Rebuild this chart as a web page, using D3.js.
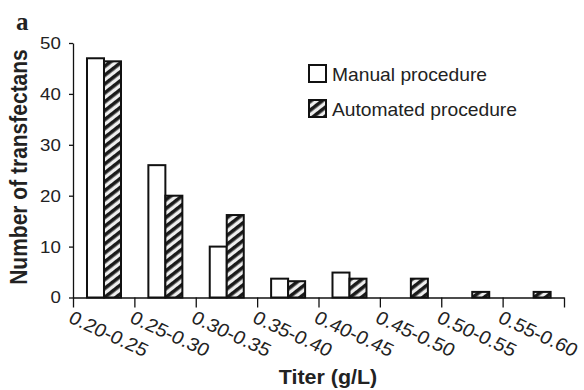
<!DOCTYPE html>
<head>
  <meta charset="utf-8">
  <script src="https://cdnjs.cloudflare.com/ajax/libs/d3/7.8.5/d3.min.js"></script>
</head>

<style>
  body { margin: 0; background: #fff; }
  text { font-family: "Liberation Sans", Arial, sans-serif; fill: #222; }
  .axis path, .axis line { stroke: #111; stroke-width: 1.3; }
  .bar { stroke: #111; stroke-width: 2; }
</style>

<body>
  <svg width="584" height="390" viewBox="0 0 584 390" class="chart"></svg>

  <script>
  // data
  let categories = ["0.20-0.25", "0.25-0.30", "0.30-0.35", "0.35-0.40",
                    "0.40-0.45", "0.45-0.50", "0.50-0.55", "0.55-0.60"];
  let manual    = [47, 26, 10, 3.7, 4.9, 0, 0, 0];
  let automated = [46.4, 20, 16.2, 3.2, 3.7, 3.7, 1.1, 1.1];
  let seriesNames = ["Manual procedure", "Automated procedure"];
  let yTicks = [0, 10, 20, 30, 40, 50];

  let svg = d3.select(".chart");
  let sx = 1.1; // picture is a bit stretched sideways

  let x0 = 73, x1 = 564, yBase = 297.5, yTop = 43;

  let x = d3.scaleBand().domain(categories).range([x0, x1]).padding(0);
  let xs = d3.scaleBand().domain(seriesNames)
      .range([x.bandwidth() * 0.228, x.bandwidth() * 0.782]);
  let xEdge = d3.scaleLinear().domain([0, categories.length]).range([x0, x1]);
  let y = d3.scaleLinear().domain([0, 50]).range([yBase, yTop]);

  // hatch pattern
  let defs = svg.append("defs");
  let pat = defs.append("pattern")
      .attr("id", "hatch")
      .attr("patternUnits", "userSpaceOnUse")
      .attr("width", 7).attr("height", 7)
      .attr("patternTransform", "rotate(-38)");
  pat.append("rect").attr("width", 7).attr("height", 7).attr("fill", "#eeeeee");
  pat.append("rect").attr("y", 0).attr("width", 7).attr("height", 3.6).attr("fill", "#1a1a1a");

  // bars
  let rows = categories.map((c, i) => ({cat: c, vals: [manual[i], automated[i]]}));
  let groups = svg.append("g").selectAll("g")
    .data(rows)
    .enter().append("g")
      .attr("transform", d => "translate(" + x(d.cat) + ",0)");

  groups.selectAll("rect")
    .data(d => d.vals.map((v, j) => ({s: seriesNames[j], v: v, j: j})).filter(d => d.v > 0))
    .enter().append("rect")
      .attr("class", "bar")
      .attr("x", d => xs(d.s))
      .attr("y", d => y(d.v))
      .attr("width", xs.bandwidth())
      .attr("height", d => yBase - y(d.v))
      .attr("fill", d => d.j === 0 ? "#fff" : "url(#hatch)");

  // y axis
  let yAxis = svg.append("g")
      .attr("class", "axis")
      .attr("transform", "translate(" + x0 + ",0)")
      .call(d3.axisLeft(y).tickValues(yTicks).tickSize(4).tickSizeOuter(0));
  yAxis.selectAll("text")
      .attr("x", -11)
      .attr("font-size", 17)
      .attr("fill", "#222")
      .attr("transform", "scale(" + sx + ",1)")
      .style("font-family", "Liberation Sans, Arial, sans-serif");

  // x axis: ticks at the bin edges
  svg.append("g")
      .attr("class", "axis")
      .attr("transform", "translate(0," + yBase + ")")
      .call(d3.axisBottom(xEdge).tickValues(d3.range(categories.length + 1))
        .tickSize(10).tickSizeOuter(0).tickFormat(""));

  svg.append("g").selectAll("text")
    .data(categories)
    .enter().append("text")
      .attr("font-size", 18.5)
      .attr("dominant-baseline", "hanging")
      .attr("transform", d => "translate(" + (x(d) + 1) + "," + (yBase + 12) + ") scale(" + sx + ",1) rotate(27)")
      .text(d => d);

  // axis titles
  svg.append("text")
      .attr("font-size", 19.5)
      .attr("font-weight", "bold")
      .attr("text-anchor", "middle")
      .attr("transform", "translate(328,384) scale(" + sx + ",1)")
      .text("Titer (g/L)");

  svg.append("text")
      .attr("font-size", 21)
      .attr("font-weight", "bold")
      .attr("text-anchor", "middle")
      .attr("transform", "translate(27,167) scale(" + sx + ",1) rotate(-90)")
      .text("Number of transfectans");

  svg.append("text")
      .attr("x", 16).attr("y", 30)
      .attr("font-size", 25)
      .attr("font-weight", "bold")
      .style("font-family", "Liberation Serif, Times New Roman, serif")
      .text("a");

  // legend
  let legend = svg.append("g").selectAll("g")
    .data(seriesNames)
    .enter().append("g")
      .attr("transform", (d, i) => "translate(309," + (65 + i * 35) + ")");
  legend.append("rect")
      .attr("width", 17).attr("height", 17)
      .attr("stroke", "#111").attr("stroke-width", 2)
      .attr("fill", (d, i) => i === 0 ? "#fff" : "url(#hatch)");
  legend.append("text")
      .attr("font-size", 17.5)
      .attr("transform", "translate(23,16) scale(" + sx + ",1)")
      .text(d => d);
  </script>
</body>
